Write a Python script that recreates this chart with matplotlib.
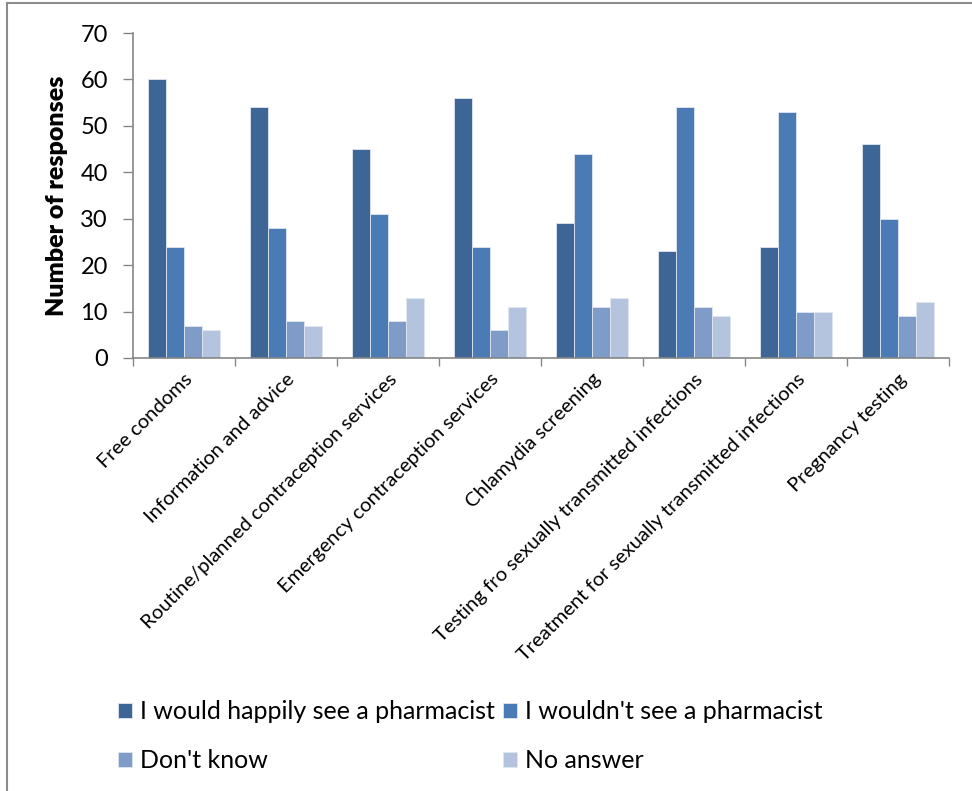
import numpy as np
import matplotlib
matplotlib.use("Agg")
import matplotlib.pyplot as plt
from matplotlib.lines import Line2D

plt.rcParams['font.family'] = ['Lato', 'DejaVu Sans']

categories = [
    "Free condoms",
    "Information and advice",
    "Routine/planned contraception services",
    "Emergency contraception services",
    "Chlamydia screening",
    "Testing fro sexually transmitted infections",
    "Treatment for sexually transmitted infections",
    "Pregnancy testing",
]
series_names = [
    "I would happily see a pharmacist",
    "I wouldn't see a pharmacist",
    "Don't know",
    "No answer",
]
happily = [60, 54, 45, 56, 29, 23, 24, 46]
wouldnt = [24, 28, 31, 24, 44, 54, 53, 30]
dont_know = [7, 8, 8, 6, 11, 11, 10, 9]
no_answer = [6, 7, 13, 11, 13, 9, 10, 12]
colors = ["#3d6697", "#4a7bb4", "#7f9cc9", "#b5c4de"]

fig = plt.figure(figsize=(9.72, 7.91), dpi=100)
ax = fig.add_axes([133 / 972, 1 - 358 / 791, (949 - 133) / 972, (358 - 33) / 791])

x = np.arange(len(categories))
bw = 0.1786
bars = []
for i, (vals, c, name) in enumerate(zip([happily, wouldnt, dont_know, no_answer], colors, series_names)):
    b = ax.bar(x + (i - 1.5) * bw, vals, width=bw, color=c, edgecolor="#dfe6f0",
               linewidth=0.6, label=name, zorder=2)
    bars.append(b)

ax.set_xlim(-0.5, len(categories) - 0.5)
ax.set_ylim(0, 70)
ax.set_yticks(range(0, 71, 10))
ax.tick_params(axis='y', labelsize=17, length=7, width=1, color="#868686", pad=11)
ax.set_xticks(x)
ax.set_xticklabels(categories, rotation=45, ha='right', rotation_mode='anchor', fontsize=14.5)
ax.tick_params(axis='x', length=0, pad=9)
ax.set_xticks(np.arange(-0.5, len(categories)), minor=True)
ax.tick_params(axis='x', which='minor', length=6, width=1, color="#868686")
for s in ("top", "right"):
    ax.spines[s].set_visible(False)
for s in ("left", "bottom"):
    ax.spines[s].set_color("#868686")
    ax.spines[s].set_linewidth(1.2)
ax.set_ylabel("Number of responses", fontsize=18, fontweight='heavy', labelpad=9)

# legend fills column-wise; order handles so rows read across
order = [0, 2, 1, 3]
leg = fig.legend([bars[k] for k in order], [series_names[k] for k in order], ncol=2,
                 loc='upper left', bbox_to_anchor=(108 / 972, 1 - 690 / 791), frameon=False,
                 fontsize=18, handlelength=0.55, handleheight=0.55,
                 handletextpad=0.35, columnspacing=0.3, labelspacing=1.05,
                 borderaxespad=0)

# outer chart frame
fig.add_artist(Line2D([7 / 972, 7 / 972], [0, 1 - 3 / 791], transform=fig.transFigure,
                      color="#8c8c8c", lw=1.5))
fig.add_artist(Line2D([7 / 972, 1], [1 - 3 / 791, 1 - 3 / 791], transform=fig.transFigure,
                      color="#8c8c8c", lw=1.5))

fig.savefig("out.png", dpi=100)
